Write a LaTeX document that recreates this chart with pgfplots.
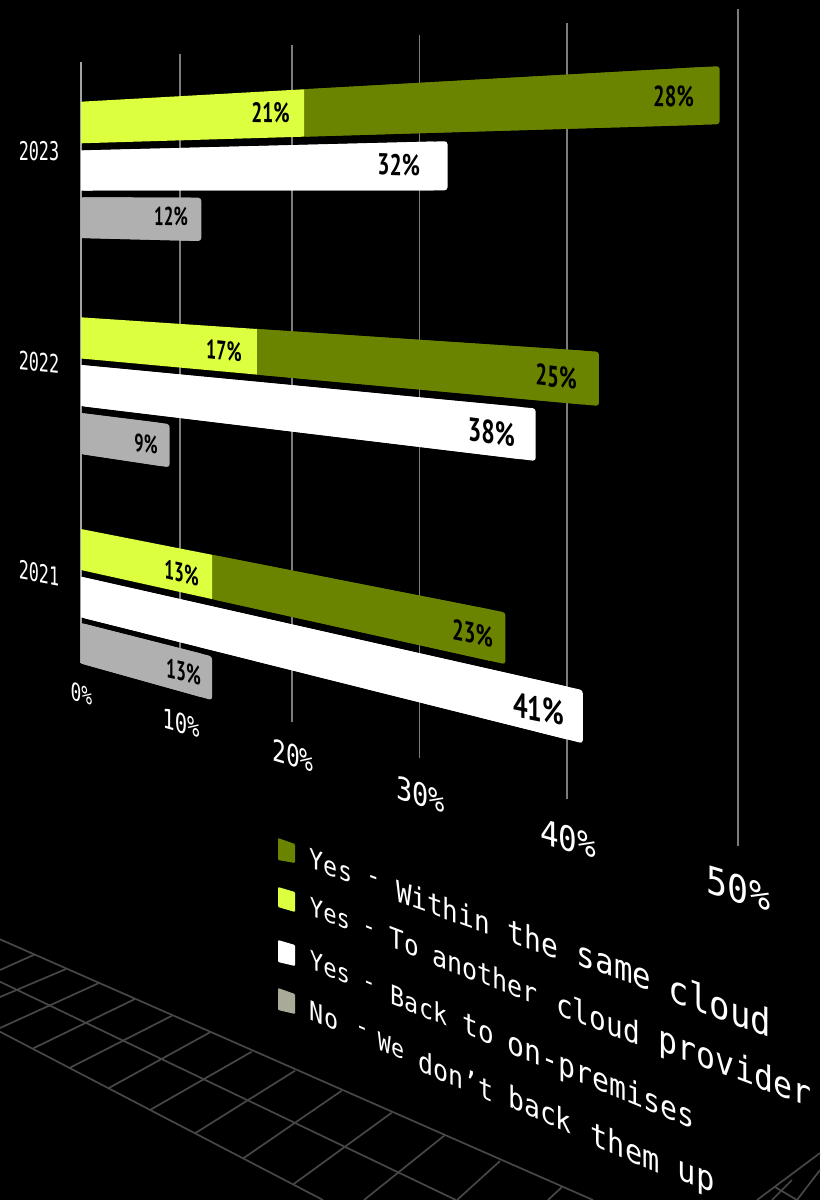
\documentclass[border=0pt]{standalone}
\usepackage{fontspec}
\setmainfont{DejaVu Sans Mono}
\newfontfamily\valfont{PT Sans}
\usepackage{pgfplots}
\pgfplotsset{compat=1.18}

\definecolor{olive}{HTML}{6B8400}
\definecolor{lime}{HTML}{DCFF40}
\definecolor{barsilver}{HTML}{B0B0B0}
\definecolor{keygrey}{HTML}{A9AB98}
\definecolor{rulegrey}{HTML}{7C7C7C}
\definecolor{floorgrey}{HTML}{474747}

% The value axis recedes: v is a percentage, w the height of the row at 0%.
\pgfplotsset{
  table/receding/.style={
    x expr={px(\thisrow{v})},
    y expr={py(\thisrow{v},\thisrow{w})},
    row sep=\\
  }
}

% Bar with rounded far end and square near end.
\newcommand\projbar[5]{%
  \addplot[fill=#1,draw=none,rounded corners=3pt,forget plot]
    table[receding] {v w\\ #2 #4\\ #3 #4\\ #3 #5\\ #2 #5\\} -- cycle;
  \addplot[fill=#1,draw=none,forget plot]
    table[row sep=\\,x expr={px(min(\thisrow{v},#3-1))},
          y expr={py(min(\thisrow{v},#3-1),\thisrow{w})}]
    {v w\\ #2 #4\\ #3 #4\\ #3 #5\\ #2 #5\\} -- cycle;
}
% Vertical rule at a given percentage.
\newcommand\gridrule[2][rulegrey]{%
  \addplot[draw=#1,line width=1.4pt,forget plot]
    table[receding] {v w\\ #2 62\\ #2 663\\};
}
% Text sheared onto the receding plane: vertical strokes stay vertical.
% [style] x y xscale yscale slope text
\newcommand\persp[7][]{%
  \pgfplotsextra{%
    \pgfmathsetmacro\perspb{-(#4)*(#6)}%
    \node[inner sep=0pt,text=white,font=\fontsize{20}{24}\selectfont,#1,
          cm={#4,\perspb,0,#5,(0,0)},transform shape]
      at (axis cs:#2,#3) {#7};
  }%
}
% Value printed on a bar: x y xscale yscale slope text
\newcommand\val[6]{%
  \pgfplotsextra{%
    \pgfmathsetmacro\perspb{-(#3)*(#5)}%
    \node[inner sep=0pt,text=black,font=\fontsize{20}{24}\selectfont\valfont\bfseries,
          cm={#3,\perspb,0,#4,(0,0)},transform shape]
      at (axis cs:#1,#2) {#6};
  }%
}
% Straight floor line in picture units.
\newcommand\floorline[4]{%
  \addplot[draw=floorgrey,line width=1.7pt,forget plot]
    coordinates {(#1,#2) (#3,#4)};
}
\newcommand\keyswatch[7]{%
  \addplot[fill=#1,draw=none,rounded corners=1pt,forget plot]
    coordinates {(#2,#3) (#4,#5) (#4,#7) (#2,#6)} -- cycle;
}

\begin{document}
\begin{tikzpicture}[x=1pt,y=1pt]
\fill[black] (0,0) rectangle (820pt,1200pt);
\begin{axis}[
  at={(0,0)},anchor=south west,
  scale only axis,width=820pt,height=1200pt,
  xmin=0,xmax=820,ymin=0,ymax=1200,y dir=reverse,
  hide axis,clip=true,
  declare function={
    fall(\w)=-11.1-1.15*min(1,max(0,(\w-200)/120))-0.2*min(1,max(0,(\w-320)/343));
    px(\v)=(81+8.855*\v)/(1-0.005806*\v);
    py(\v,\w)=(\w+0.1*\v*fall(\w))/(1-0.005806*\v);
  },
]
% Floor grid, lower left
\floorline{0}{939.3}{593}{1200}
\floorline{0}{981.7}{456}{1200}
\floorline{0}{1031.7}{323}{1200}
\floorline{0}{970}{35}{954.3}
\floorline{0}{997}{66}{969}
\floorline{0}{1028}{99}{983}
\floorline{33.3}{1048.3}{135}{999}
\floorline{70}{1067.7}{172}{1015.7}
\floorline{108.3}{1088.3}{210}{1032.3}
\floorline{150}{1110}{251.7}{1051.7}
\floorline{195}{1133.3}{295}{1070.7}
\floorline{243.3}{1158.3}{341.7}{1090.7}
\floorline{293.3}{1184.3}{391.7}{1112.7}
\floorline{364}{1200}{445}{1135}
\floorline{457}{1200}{500}{1161}
\floorline{548}{1200}{562}{1187}
% Floor grid, lower right corner
\floorline{757}{1200}{820}{1153}
\floorline{772}{1200}{792}{1180}
\floorline{797}{1200}{820}{1170}
\floorline{775}{1187}{797}{1200}

% Value rules
\gridrule[rulegrey!70]{0}
\gridrule{10}
\gridrule{20}
\gridrule{30}
\gridrule{40}
\gridrule{50}

% 2023
\projbar{olive}{21}{49}{101.7}{143.3}
\addplot[fill=lime,draw=none,forget plot] table[receding] {v w\\ 0 101.7\\ 21 101.7\\ 21 143.3\\ 0 143.3\\} -- cycle;
\projbar{white}{0}{32}{150.5}{190.5}
\projbar{barsilver}{0}{12}{197.3}{238}
% 2022
\projbar{olive}{17}{42}{317.3}{358.5}
\addplot[fill=lime,draw=none,forget plot] table[receding] {v w\\ 0 317.3\\ 17 317.3\\ 17 358.5\\ 0 358.5\\} -- cycle;
\projbar{white}{0}{38}{365}{406}
\projbar{barsilver}{0}{9}{413}{454}
% 2021
\projbar{olive}{13}{36}{529}{570}
\addplot[fill=lime,draw=none,forget plot] table[receding] {v w\\ 0 529\\ 13 529\\ 13 570\\ 0 570\\} -- cycle;
\projbar{white}{0}{41}{576.7}{617.3}
\projbar{barsilver}{0}{13}{623}{663.5}

% Key swatches
\keyswatch{olive}{278}{838}{295}{844}{860}{863}
\keyswatch{lime}{278}{887}{295}{892}{907}{912}
\keyswatch{white}{278}{940}{295}{945}{962}{966}
\keyswatch{keygrey}{278}{988}{295}{994}{1010}{1014}

% Row names
\persp{39}{151}{0.84}{1.29}{0}{2023}
\persp{39}{362}{0.84}{1.27}{0.1}{2022}
\persp{39}{573}{0.84}{1.27}{0.18}{2021}

% Value-axis labels
\persp{81.5}{693.5}{0.9}{1.22}{0.3}{0\%}
\persp{181}{723}{1.03}{1.36}{0.29}{10\%}
\persp{293}{756}{1.15}{1.5}{0.29}{20\%}
\persp{420.5}{794.5}{1.35}{1.58}{0.3}{30\%}
\persp{568}{838.5}{1.55}{1.72}{0.28}{40\%}
\persp{738.5}{888.5}{1.75}{1.9}{0.3}{50\%}

% Values on the bars
\val{270.5}{113}{0.97}{1.41}{0.02}{21\%}
\val{673.5}{96.5}{1.03}{1.46}{0.03}{28\%}
\val{398.7}{165}{1.08}{1.5}{0.03}{32\%}
\val{171}{216.5}{0.85}{1.3}{0.02}{12\%}
\val{224}{350.5}{0.9}{1.35}{0.1}{17\%}
\val{556}{376.7}{1.05}{1.5}{0.12}{25\%}
\val{491.3}{432}{1.19}{1.65}{0.13}{38\%}
\val{146}{443.7}{0.82}{1.27}{0.13}{9\%}
\val{181.5}{573}{0.87}{1.35}{0.22}{13\%}
\val{183.5}{672}{0.88}{1.36}{0.22}{13\%}
\val{472.5}{633.5}{1.03}{1.46}{0.2}{23\%}
\val{538.5}{709}{1.29}{1.74}{0.2}{41\%}

% Key, word by word so the letters grow along each line
\persp{331}{866}{1.17}{1.34}{0.36}{Yes}
\persp{374}{881}{1.2}{1.37}{0.36}{-}
\persp{443}{907}{1.30}{1.48}{0.36}{Within}
\persp{533}{939}{1.40}{1.6}{0.36}{the}
\persp{614}{968}{1.54}{1.74}{0.36}{same}
\persp{720}{1005}{1.70}{1.91}{0.36}{cloud}

\persp{330}{914}{1.11}{1.28}{0.38}{Yes}
\persp{369}{931}{1.15}{1.32}{0.38}{-}
\persp{404}{942}{1.22}{1.4}{0.38}{To}
\persp{485}{974}{1.25}{1.44}{0.38}{another}
\persp{598}{1018}{1.39}{1.59}{0.38}{cloud}
\persp{735}{1069}{1.58}{1.78}{0.38}{provider}

\persp{330}{968}{1.11}{1.28}{0.41}{Yes}
\persp{369}{986}{1.13}{1.3}{0.41}{-}
\persp{419}{1005}{1.17}{1.34}{0.41}{Back}
\persp{478}{1029}{1.3}{1.48}{0.41}{to}
\persp{601}{1082}{1.41}{1.6}{0.41}{on-premises}

\persp{324}{1016}{1.17}{1.34}{0.43}{No}
\persp{362}{1031}{1.15}{1.32}{0.43}{-}
\persp{391}{1046}{1.08}{1.24}{0.43}{We}
\persp{456}{1076}{1.25}{1.44}{0.43}{don\symbol{39}t}
\persp{540}{1109}{1.32}{1.51}{0.43}{back}
\persp{625}{1147}{1.43}{1.63}{0.43}{them}
\persp{696}{1180}{1.53}{1.7}{0.43}{up}
\end{axis}
\pgfresetboundingbox
\path[use as bounding box] (0,0) rectangle (820pt,1200pt);
\end{tikzpicture}
\end{document}
